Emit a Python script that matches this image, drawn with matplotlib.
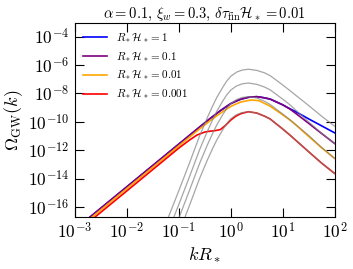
import numpy as np
import matplotlib
matplotlib.use("Agg")
import matplotlib.pyplot as plt
from matplotlib.ticker import FixedLocator, FuncFormatter, NullLocator

plt.rcParams['mathtext.fontset'] = 'cm'

# ---- data (log10 k R_*, log10 Omega_GW) ----
blue_logk = [-3.0, -2.0, -1.0, -0.6, -0.4, -0.2, 0.0, 0.1, 0.2, 0.35, 0.5, 0.6, 0.76, 1.0, 1.14, 1.25, 1.53, 1.75, 2.0]
blue_logO = [-17.57, -14.57, -11.57, -10.37, -9.78, -9.22, -8.72, -8.55, -8.40, -8.27, -8.23, -8.28, -8.40, -8.80, -9.08, -9.28, -9.85, -10.28, -10.77]

purple_logk = [-3.0, -2.0, -1.0, -0.6, -0.4, -0.2, 0.0, 0.1, 0.2, 0.35, 0.5, 0.6, 0.76, 1.0, 1.14, 1.25, 1.5, 1.75, 2.0]
purple_logO = [-17.57, -14.57, -11.57, -10.37, -9.78, -9.22, -8.72, -8.55, -8.40, -8.27, -8.23, -8.28, -8.40, -8.80, -9.10, -9.40, -10.10, -10.82, -11.52]

orange_logk = [-3.0, -2.0, -1.0, -0.6, -0.4, -0.2, 0.0, 0.1, 0.2, 0.4, 0.55, 0.76, 1.0, 1.14, 1.25, 1.5, 1.75, 2.0]
orange_logO = [-17.69, -14.69, -11.69, -10.50, -9.93, -9.40, -8.92, -8.75, -8.60, -8.46, -8.52, -8.90, -9.50, -9.87, -10.20, -11.02, -11.82, -12.57]

red_logk = [-3.0, -2.0, -1.0, -0.8, -0.65, -0.5, -0.4, -0.3, -0.2, -0.1, 0.0, 0.1, 0.2, 0.34, 0.5, 0.65, 0.76, 1.0, 1.14, 1.5, 1.75, 2.0]
red_logO = [-17.86, -14.86, -11.85, -11.30, -10.93, -10.72, -10.66, -10.62, -10.55, -10.25, -9.88, -9.60, -9.42, -9.29, -9.38, -9.60, -9.80, -10.50, -10.93, -12.10, -12.90, -13.63]

gray1_logk = [-1.3, -1.2, -1.0, -0.8, -0.6, -0.45, -0.35, -0.27, -0.15, -0.08, 0.0, 0.115, 0.22, 0.34, 0.5, 0.65, 0.76, 1.0, 1.14, 1.5, 1.75, 2.0]
gray1_logO = [-17.6, -16.7, -14.85, -12.95, -11.0, -9.7, -8.9, -8.3, -7.55, -7.15, -6.8, -6.5, -6.36, -6.30, -6.38, -6.55, -6.75, -7.4, -7.8, -8.85, -9.6, -10.3]

gray2_logk = [-1.3, -1.2, -1.0, -0.8, -0.6, -0.45, -0.35, -0.27, -0.15, -0.08, 0.0, 0.115, 0.22, 0.34, 0.5, 0.65, 0.76, 1.0, 1.14, 1.5, 1.75, 2.0]
gray2_logO = [-18.57, -17.67, -15.82, -13.92, -11.97, -10.67, -9.87, -9.27, -8.52, -8.12, -7.77, -7.47, -7.33, -7.27, -7.36, -7.55, -7.75, -8.40, -8.80, -10.00, -10.80, -11.52]

gray3_logk = [-1.3, -1.2, -1.0, -0.8, -0.6, -0.45, -0.35, -0.27, -0.15, -0.08, 0.0, 0.115, 0.22, 0.34, 0.5, 0.65, 0.76, 1.0, 1.14, 1.5, 1.75, 2.0]
gray3_logO = [-19.53, -18.63, -16.78, -14.88, -12.93, -11.63, -10.83, -10.23, -9.48, -9.08, -8.73, -8.43, -8.29, -8.23, -8.32, -8.55, -8.78, -9.45, -9.85, -10.95, -11.80, -12.57]

gray4_logk = [-1.3, -1.2, -1.0, -0.8, -0.6, -0.45, -0.35, -0.27, -0.15, -0.08, 0.0, 0.115, 0.22, 0.34, 0.5, 0.65, 0.76, 1.0, 1.14, 1.5, 1.75, 2.0]
gray4_logO = [-20.59, -19.69, -17.84, -15.94, -13.99, -12.69, -11.89, -11.29, -10.54, -10.14, -9.79, -9.49, -9.35, -9.29, -9.38, -9.60, -9.80, -10.50, -10.93, -12.10, -12.90, -13.63]

labels = [r'$R_*\mathcal{H}_* = 1$', r'$R_*\mathcal{H}_* = 0.1$',
          r'$R_*\mathcal{H}_* = 0.01$', r'$R_*\mathcal{H}_* = 0.001$']
colors = ['blue', 'purple', 'orange', 'red']

xtick_exps = [-3, -2, -1, 0, 1, 2]
ytick_exps = [-16, -14, -12, -10, -8, -6, -4]

fig = plt.figure(figsize=(3.53, 2.69), dpi=100)
ax = fig.add_axes([0.2125, 0.1933, 0.7351, 0.7212])

colored = [(blue_logk, blue_logO), (purple_logk, purple_logO),
           (orange_logk, orange_logO), (red_logk, red_logO)]
for (lk, lo), c, lab in zip(colored, colors, labels):
    ax.plot(10.0 ** np.array(lk), 10.0 ** np.array(lo), color=c, lw=1.2, label=lab, zorder=2)

for lk, lo in [(gray1_logk, gray1_logO), (gray2_logk, gray2_logO),
               (gray3_logk, gray3_logO), (gray4_logk, gray4_logO)]:
    ax.plot(10.0 ** np.array(lk), 10.0 ** np.array(lo), color='0.5', lw=0.9, alpha=0.7, zorder=3)

ax.set_xscale('log')
ax.set_yscale('log')
ax.set_xlim(1e-3, 1e2)
ax.set_ylim(2e-17, 9e-4)

ax.xaxis.set_major_locator(FixedLocator([10.0 ** e for e in xtick_exps]))
ax.yaxis.set_major_locator(FixedLocator([10.0 ** e for e in ytick_exps]))
ax.xaxis.set_minor_locator(NullLocator())
ax.yaxis.set_minor_locator(NullLocator())
fmt = FuncFormatter(lambda v, p: r'$10^{%d}$' % int(round(np.log10(v))))
ax.xaxis.set_major_formatter(fmt)
ax.yaxis.set_major_formatter(fmt)
ax.tick_params(which='both', direction='in', top=True, right=True,
               length=6.5, width=0.8, labelsize=12.5, pad=4)
for s in ax.spines.values():
    s.set_linewidth(0.8)

ax.set_xlabel(r'$kR_*$', fontsize=13, labelpad=2.5)
ax.set_ylabel(r'$\Omega_{\rm GW}(k)$', fontsize=13, labelpad=2)
ax.set_title(r'$\alpha = 0.1,\, \xi_w = 0.3,\, \delta\tau_{\rm fin}\mathcal{H}_* = 0.01$',
             fontsize=10.5, pad=3.5)

ax.legend(loc='upper left', frameon=False, fontsize=8, handlelength=2.2,
          borderaxespad=0.3, labelspacing=0.45, handletextpad=0.8)

fig.savefig('out.png', dpi=100)
